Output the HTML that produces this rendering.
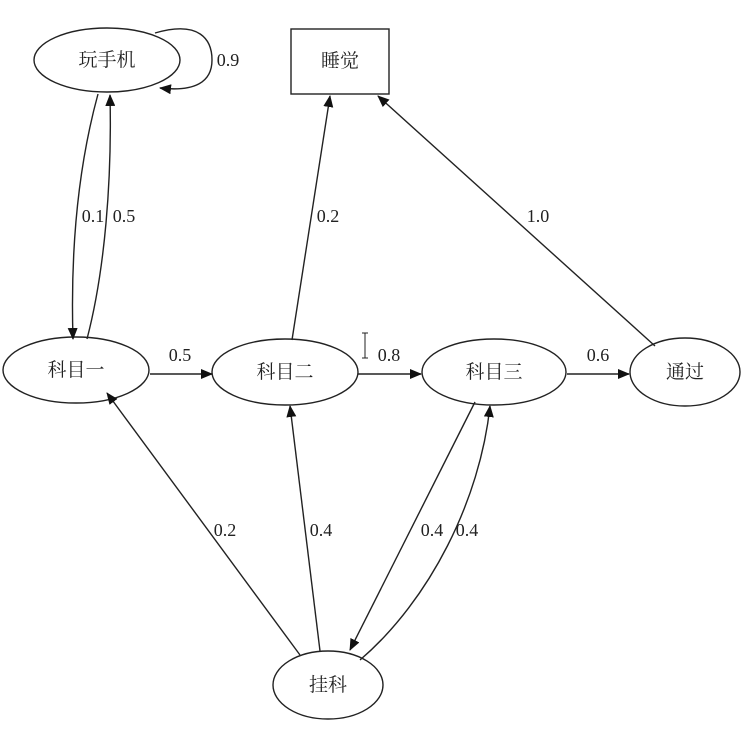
<!DOCTYPE html>
<html><head><meta charset="utf-8"><style>
body{margin:0;background:#fff}
svg text{font-family:"Liberation Serif","Noto Serif CJK SC",serif;fill:#222}
</style></head><body>
<svg width="754" height="732" viewBox="0 0 754 732" xmlns="http://www.w3.org/2000/svg">
<defs><marker id="a" markerWidth="12" markerHeight="10" refX="11" refY="5" orient="auto" markerUnits="userSpaceOnUse"><path d="M0,0 L12,5 L0,10 z" fill="#111"/></marker></defs>
<g fill="none" stroke="#222" stroke-width="1.4">
<ellipse cx="107" cy="60" rx="73" ry="32"/>
<rect x="291" y="29" width="98" height="65"/>
<ellipse cx="76" cy="370" rx="73" ry="33"/>
<ellipse cx="285" cy="372" rx="73" ry="33"/>
<ellipse cx="494" cy="372" rx="72" ry="33"/>
<ellipse cx="685" cy="372" rx="55" ry="34"/>
<ellipse cx="328" cy="685" rx="55" ry="34"/>
<path d="M155,33 C200,20 212,40 212,60 C212,82 195,92 160,88" marker-end="url(#a)"/>
<path d="M98,94 C80,160 70,240 73,339" marker-end="url(#a)"/>
<path d="M87,339 C105,270 112,180 110,95" marker-end="url(#a)"/>
<path d="M292,340 L330,96" marker-end="url(#a)"/>
<path d="M655,346 L378,96" marker-end="url(#a)"/>
<path d="M150,374 L212,374" marker-end="url(#a)"/>
<path d="M358,374 L421,374" marker-end="url(#a)"/>
<path d="M567,374 L629,374" marker-end="url(#a)"/>
<path d="M300,655 L107,393" marker-end="url(#a)"/>
<path d="M320,651 L290,406" marker-end="url(#a)"/>
<path d="M475,402 L350,650" marker-end="url(#a)"/>
<path d="M360,660 C430,600 480,500 490,406" marker-end="url(#a)"/>
<path d="M362,333 L368,333 M365,333 L365,358 M362,358 L368,358" stroke-width="1"/>
</g>
<g font-size="19" text-anchor="middle">
<text x="107" y="66">玩手机</text>
<text x="340" y="67">睡觉</text>
<text x="76" y="376">科目一</text>
<text x="285" y="378">科目二</text>
<text x="494" y="378">科目三</text>
<text x="685" y="378">通过</text>
<text x="328" y="691">挂科</text>
</g>
<g font-size="18" text-anchor="middle">
<text x="228" y="66">0.9</text>
<text x="93" y="222">0.1</text>
<text x="124" y="222">0.5</text>
<text x="328" y="222">0.2</text>
<text x="538" y="222">1.0</text>
<text x="180" y="361">0.5</text>
<text x="389" y="361">0.8</text>
<text x="598" y="361">0.6</text>
<text x="225" y="536">0.2</text>
<text x="321" y="536">0.4</text>
<text x="432" y="536">0.4</text>
<text x="467" y="536">0.4</text>
</g>
</svg>
</body></html>
